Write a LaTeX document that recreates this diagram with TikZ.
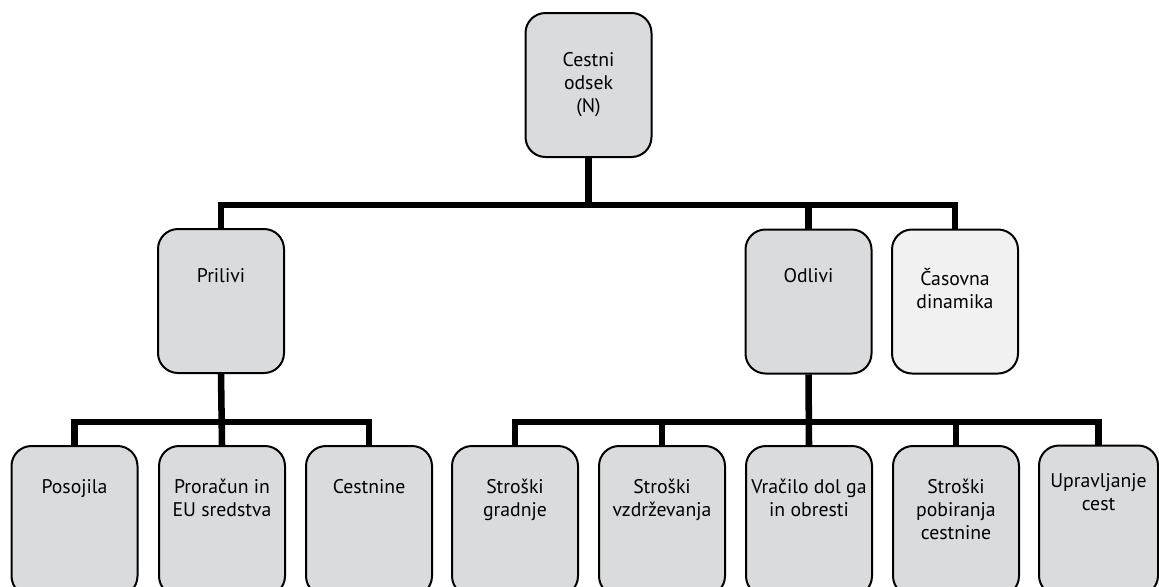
\documentclass[tikz,border=0pt]{standalone}
\usepackage{fontspec}
\setmainfont{PT Sans}
\usepackage{xcolor}
\usetikzlibrary{positioning}

\definecolor{boxgray}{RGB}{218,219,221}
\definecolor{boxlight}{RGB}{241,241,241}

\tikzset{
  box/.style={draw=black, line width=1.5pt, rounded corners=15pt, fill=boxgray,
    minimum width=94.5pt, inner sep=0pt},
  boxtext/.style={align=center, inner sep=0pt, font=\fontsize{14.8}{17.25}\selectfont},
  link/.style={line width=4.9pt}
}

\begin{document}
\begin{tikzpicture}[x=0.75pt,y=-0.75pt]
          \clip (0,0) rectangle (1159,586);
          \useasboundingbox (0,0) rectangle (1159,586);

          % top
          \node[box, minimum height=108pt] (odsek) at (588.5,85) {};
          \node[boxtext, below=30.5pt of odsek.north] (odsekt) {Cestni\\odsek\\(N)};

          % second row
          \node[box, minimum height=108pt] (prilivi) at (221,301) {};
          \node[box, minimum height=108pt] (odlivi) at (808.5,301.5) {};
          \node[box, minimum height=108pt, fill=boxlight] (casovna) at (955,301.5) {};
          \node[boxtext, below=30pt of prilivi.north] (prilivit) {Prilivi};
          \node[boxtext, below=30pt of odlivi.north] (odlivit) {Odlivi};
          \node[boxtext, below=30pt of casovna.north] (casovnat) {Časovna\\dinamika};

          % third row
          \node[box, minimum height=112.5pt] (posojila) at (74.5,521) {};
          \node[box, minimum height=112.5pt] (proracun) at (222,521) {};
          \node[box, minimum height=112.5pt] (cestnine) at (369,521) {};
          \node[box, minimum height=112.5pt] (gradnje) at (515,521) {};
          \node[box, minimum height=112.5pt] (vzdrzevanje) at (662,521) {};
          \node[box, minimum height=112.5pt] (vracilo) at (809,521) {};
          \node[box, minimum height=112.5pt] (pobiranje) at (956,521) {};
          \node[box, minimum height=112.5pt, minimum width=89.25pt] (upravljanje) at (1098.5,520.5) {};

          \node[boxtext, below=25.5pt of posojila.north] (posojilat) {Posojila};
          \node[boxtext, below=25.5pt of proracun.north] (proracunt) {Proračun in\\EU sredstva};
          \node[boxtext, below=25.5pt of cestnine.north] (cestninet) {Cestnine};
          \node[boxtext, below=25.5pt of gradnje.north] (gradnjet) {Stroški\\gradnje};
          \node[boxtext, below=25.5pt of vzdrzevanje.north] (vzdrzevanjet) {Stroški\\vzdrževanja};
          \node[boxtext, below=25.5pt of vracilo.north] (vracilot) {Vračilo dol ga\\in obresti};
          \node[boxtext, below=25.5pt of pobiranje.north] (pobiranjet) {Stroški\\pobiranja\\cestnine};
          \node[boxtext, below=21.5pt of upravljanje.north] (upravljanjet) {Upravljanje\\cest};

          % connectors
          \coordinate (bartop) at (588.5,205);
          \coordinate (barleft) at (222,422);
          \coordinate (barright) at (808.5,422);

          \draw[link] (odsek.south) -- (bartop);
          \draw[link] (prilivi.north) |- (bartop) -| (casovna.north);
          \draw[link] (odlivi.north) -- (odlivi.north |- bartop);

          \draw[link] (prilivi.south) -- (proracun.north);
          \draw[link] (posojila.north) |- (barleft) -| (cestnine.north);

          \draw[link] (odlivi.south) -- (vracilo.north);
          \draw[link] (gradnje.north) |- (barright) -| (upravljanje.north);
          \draw[link] (vzdrzevanje.north) -- (vzdrzevanje.north |- barright);
          \draw[link] (pobiranje.north) -- (pobiranje.north |- barright);

          \end{tikzpicture}
\end{document}
